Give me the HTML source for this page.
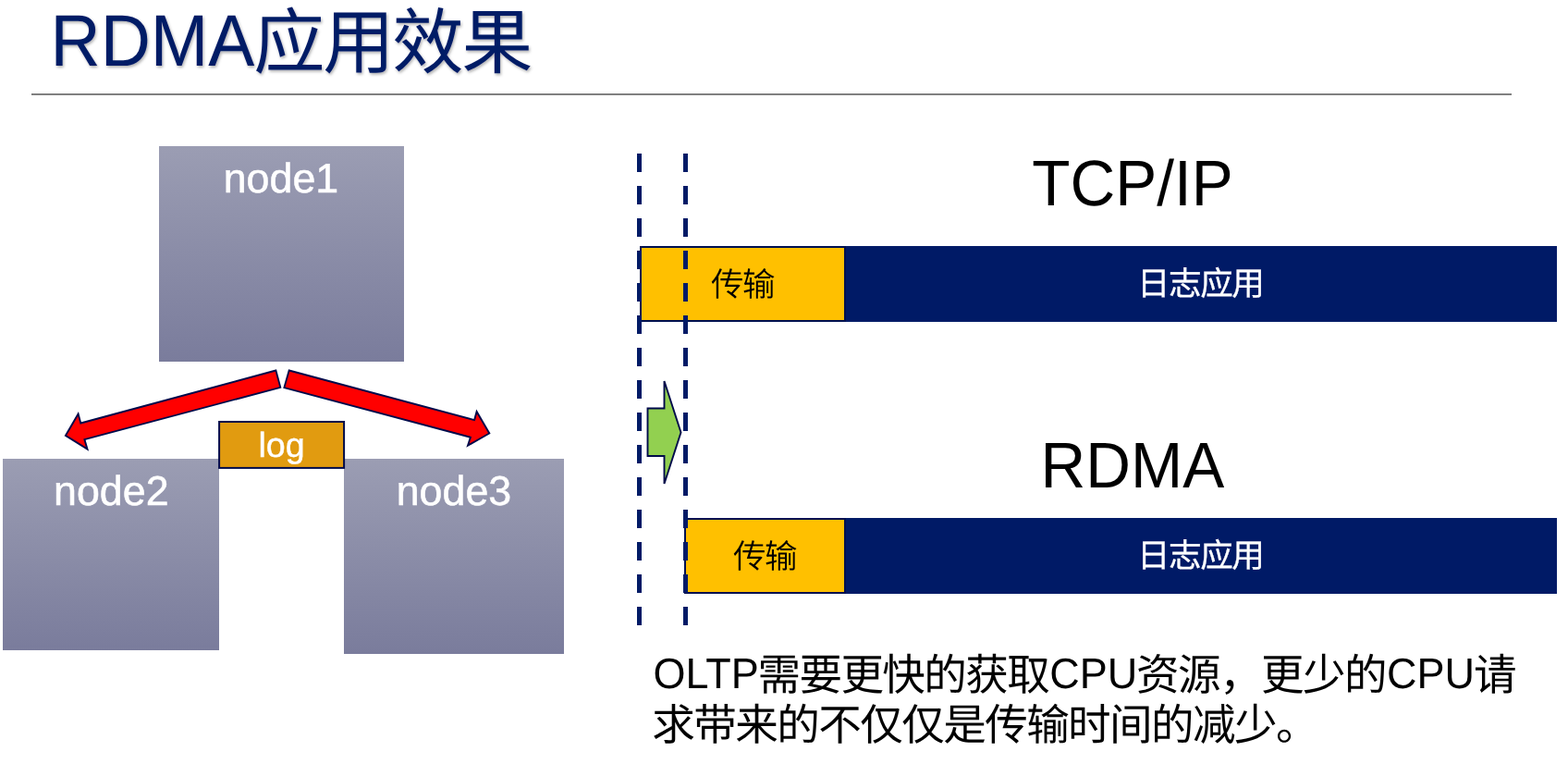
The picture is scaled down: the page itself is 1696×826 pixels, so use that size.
<!DOCTYPE html>
<html lang="zh-CN">
<head>
<meta charset="utf-8">
<title>RDMA应用效果</title>
<style>
  html, body { margin: 0; padding: 0; background: #ffffff; }
  body { width: 1696px; height: 826px; overflow: hidden; position: relative;
         font-family: "Liberation Sans", "Noto Sans CJK SC", sans-serif; }
  svg { position: absolute; left: 0; top: 0; display: block; will-change: transform; }
  text { font-family: "Liberation Sans", "Noto Sans CJK SC", sans-serif; text-rendering: geometricPrecision; }
  .title { font-size: 75px; fill: #001a66; }
  .node { font-size: 44.8px; fill: #ffffff; text-anchor: middle; stroke: #ffffff; stroke-width: 0.5px; }
  .log { font-size: 37.6px; fill: #ffffff; text-anchor: middle; stroke: #ffffff; stroke-width: 0.4px; }
  .head { font-size: 67.5px; fill: #000000; text-anchor: middle; }
  .bar-y { font-size: 35.6px; letter-spacing: -1.5px; fill: #000000; text-anchor: middle; font-weight: 350; }
  .bar-b { font-size: 35.6px; letter-spacing: -1.5px; fill: #ffffff; text-anchor: middle; stroke: #ffffff; stroke-width: 0.3px; }
  .para { font-size: 45px; fill: #000000; }
  .pc { font-size: 46.6px; letter-spacing: -1.6px; fill: #000000; }
</style>
</head>
<body>
<svg width="1696" height="826" viewBox="0 0 1696 826">
  <defs>
    <linearGradient id="ng" x1="0" y1="0" x2="0" y2="1">
      <stop offset="0" stop-color="#9b9db3"/>
      <stop offset="1" stop-color="#7a7c9c"/>
    </linearGradient>
    <filter id="ts" x="-5%" y="-20%" width="110%" height="150%">
      <feDropShadow dx="1.2" dy="2" stdDeviation="1.6" flood-color="#000000" flood-opacity="0.3"/>
    </filter>
  </defs>

  <!-- title -->
  <g filter="url(#ts)">
    <text class="title" transform="translate(54.5,71) scale(1,1.05)">RDMA</text>
    <text class="title" x="274.3" y="73" style="font-size:77.2px;letter-spacing:-2.2px">应用效果</text>
  </g>
  <rect x="34" y="101" width="1601" height="2" fill="#808080"/>

  <!-- nodes -->
  <rect x="172" y="158" width="265" height="233" fill="url(#ng)"/>
  <rect x="3" y="496" width="234" height="207" fill="url(#ng)"/>
  <rect x="372" y="496" width="238" height="211" fill="url(#ng)"/>
  <text class="node" x="304" y="207.6">node1</text>
  <text class="node" x="120.3" y="545.8">node2</text>
  <text class="node" x="491" y="545.8">node3</text>

  <!-- red arrows -->
  <polygon points="298.4,400.5 303.3,418.8 91.4,475.1 94.5,485.6 70.9,470.9 84.6,447.4 87.3,457.5"
           fill="#ff0000" stroke="#000a4a" stroke-width="1.9" stroke-linejoin="miter"/>
  <polygon points="312.7,400.5 513.1,454.1 515.6,444.9 529.3,468.5 506,481.7 508.9,472.8 307.4,419.1"
           fill="#ff0000" stroke="#000a4a" stroke-width="1.9" stroke-linejoin="miter"/>

  <!-- log box -->
  <rect x="237.1" y="456" width="135" height="49.9" fill="#e19b10" stroke="#000a4a" stroke-width="2"/>
  <text class="log" x="304.5" y="494">log</text>

  <!-- TCP/IP bar -->
  <rect x="913" y="266" width="771" height="82" fill="#001a66"/>
  <rect x="693" y="267" width="221" height="80" fill="#ffc000" stroke="#00104f" stroke-width="2"/>
  <text class="bar-y" x="803" y="320">传输</text>
  <text class="bar-b" x="1298.2" y="319.4">日志应用</text>

  <!-- RDMA bar -->
  <rect x="913" y="560" width="771" height="82" fill="#001a66"/>
  <rect x="741" y="561" width="173" height="80" fill="#ffc000" stroke="#00104f" stroke-width="2"/>
  <text class="bar-y" x="827" y="614">传输</text>
  <text class="bar-b" x="1298.2" y="613.4">日志应用</text>

  <!-- dashed guides -->
  <line x1="691.5" y1="166" x2="691.5" y2="676" stroke="#001a66" stroke-width="5" stroke-dasharray="20 15"/>
  <line x1="741.5" y1="166" x2="741.5" y2="676" stroke="#001a66" stroke-width="5" stroke-dasharray="20 15"/>

  <!-- green arrow -->
  <polygon points="700.5,441.5 718.5,441.5 718.5,412 736.5,467.5 718.5,523 718.5,493 700.5,493"
           fill="#92d050" stroke="#000a4a" stroke-width="1.9" stroke-linejoin="miter"/>

  <!-- headings -->
  <text class="head" transform="translate(1225.1,222) scale(1,1.034)">TCP/IP</text>
  <text class="head" transform="translate(1224.9,527.4) scale(1,1.034)">RDMA</text>

  <!-- paragraph -->
  <text class="para" transform="translate(706.5,744) scale(1,1.03)">OLTP</text>
  <text class="pc" x="819.4" y="746">需要更快的获取</text>
  <text class="para" transform="translate(1135.2,744) scale(1,1.03)">CPU</text>
  <text class="pc" x="1229.1" y="746">资源，更少的</text>
  <text class="para" transform="translate(1500,744) scale(1,1.03)">CPU</text>
  <text class="pc" x="1593.9" y="746">请</text>
  <text class="pc" x="705.2" y="800">求带来的不仅仅是传输时间的减少。</text>
</svg>
</body>
</html>
